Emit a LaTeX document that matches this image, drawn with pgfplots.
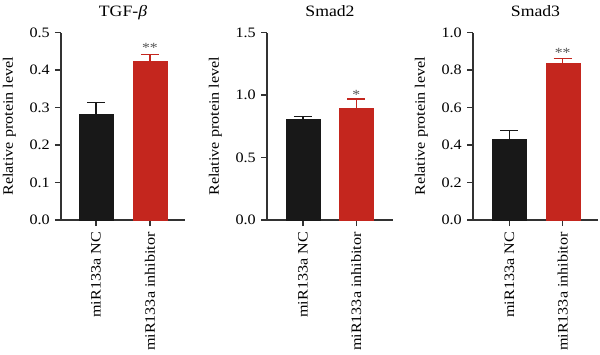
\documentclass[border=0pt]{standalone}
\usepackage{fontspec}
\setmainfont[FakeStretch=1.12]{Liberation Serif}
\usepackage{pgfplots}
\pgfplotsset{compat=1.18}

\definecolor{barblack}{RGB}{24,24,24}
\definecolor{barred}{RGB}{196,38,30}
\definecolor{axisgray}{RGB}{50,50,50}
\definecolor{stargray}{RGB}{85,85,85}

\tikzset{stars/.style={font=\fontsize{14}{14}\selectfont, text=stargray, yshift=-2.5pt}}

\pgfplotsset{
  panel/.style={
    scale only axis, height=187.5pt, ymin=0,
    axis x line*=bottom, axis y line*=left,
    axis line style={axisgray, line width=1.1pt},
    tick style={axisgray, line width=1.1pt},
    tick align=outside, major tick length=6pt,
    xtick={0,1}, xticklabels={miR133a NC, miR133a inhibitor},
    xticklabel style={rotate=90, anchor=east, inner sep=0pt},
    xticklabel shift=6pt,
    yticklabel style={inner sep=0pt},
    yticklabel shift=5pt,
    y tick label style={/pgf/number format/fixed, /pgf/number format/fixed zerofill,
      /pgf/number format/precision=1, /pgf/number format/assume math mode=true},
    tick label style={font=\fontsize{14.4}{16}\selectfont, text=black},
    ylabel={Relative protein level},
    % rotated label: its local y axis points left
    ylabel style={at={(rel axis cs:0,0.5)}, anchor=center, yshift=51.5pt,
      font=\fontsize{14.4}{16}\selectfont},
    title style={at={(rel axis cs:0.5,1)}, anchor=base, yshift=10.5pt,
      font=\fontsize{15.8}{17}\selectfont},
    ybar, bar width=34pt, bar shift=0pt,
    error bars/y dir=plus, error bars/y explicit,
  },
  blackbar/.style={fill=barblack, draw=barblack,
    error bars/error bar style={barblack, line width=1.1pt},
    error bars/error mark options={rotate=90, barblack, mark size=9pt, line width=1.1pt}},
  redbar/.style={fill=barred, draw=barred,
    error bars/error bar style={barred, line width=1.1pt},
    error bars/error mark options={rotate=90, barred, mark size=9pt, line width=1.1pt}},
}

\begin{document}
\begin{tikzpicture}
\path[use as bounding box] (0,0) rectangle (600pt,354pt);

% TGF-beta
\begin{axis}[panel, at={(61pt,134pt)}, anchor=south west,
  width=124pt, xmin=-0.65, xmax=1.65,
  ymax=0.5, ytick={0,0.1,0.2,0.3,0.4,0.5},
  title={TGF-\textit{β}}]
\addplot[blackbar] coordinates {(0,0.282) +- (0,0.031)};
\addplot[redbar] coordinates {(1,0.424) +- (0,0.018)};
\node[stars] at (axis cs:1,0.465) {**};
\end{axis}

% Smad2
\begin{axis}[panel, at={(267pt,134pt)}, anchor=south west,
  width=126pt, xmin=-0.675, xmax=1.69,
  ymax=1.5, ytick={0,0.5,1.0,1.5},
  title={Smad2}]
\addplot[blackbar] coordinates {(0,0.806) +- (0,0.020)};
\addplot[redbar] coordinates {(1,0.898) +- (0,0.070)};
\node[stars] at (axis cs:1,1.024) {*};
\end{axis}

% Smad3
\begin{axis}[panel, at={(473pt,134pt)}, anchor=south west,
  width=125pt, xmin=-0.68, xmax=1.66,
  ymax=1.0, ytick={0,0.2,0.4,0.6,0.8,1.0},
  title={Smad3}]
\addplot[blackbar] coordinates {(0,0.432) +- (0,0.043)};
\addplot[redbar] coordinates {(1,0.835) +- (0,0.025)};
\node[stars] at (axis cs:1,0.907) {**};
\end{axis}
\end{tikzpicture}
\end{document}
